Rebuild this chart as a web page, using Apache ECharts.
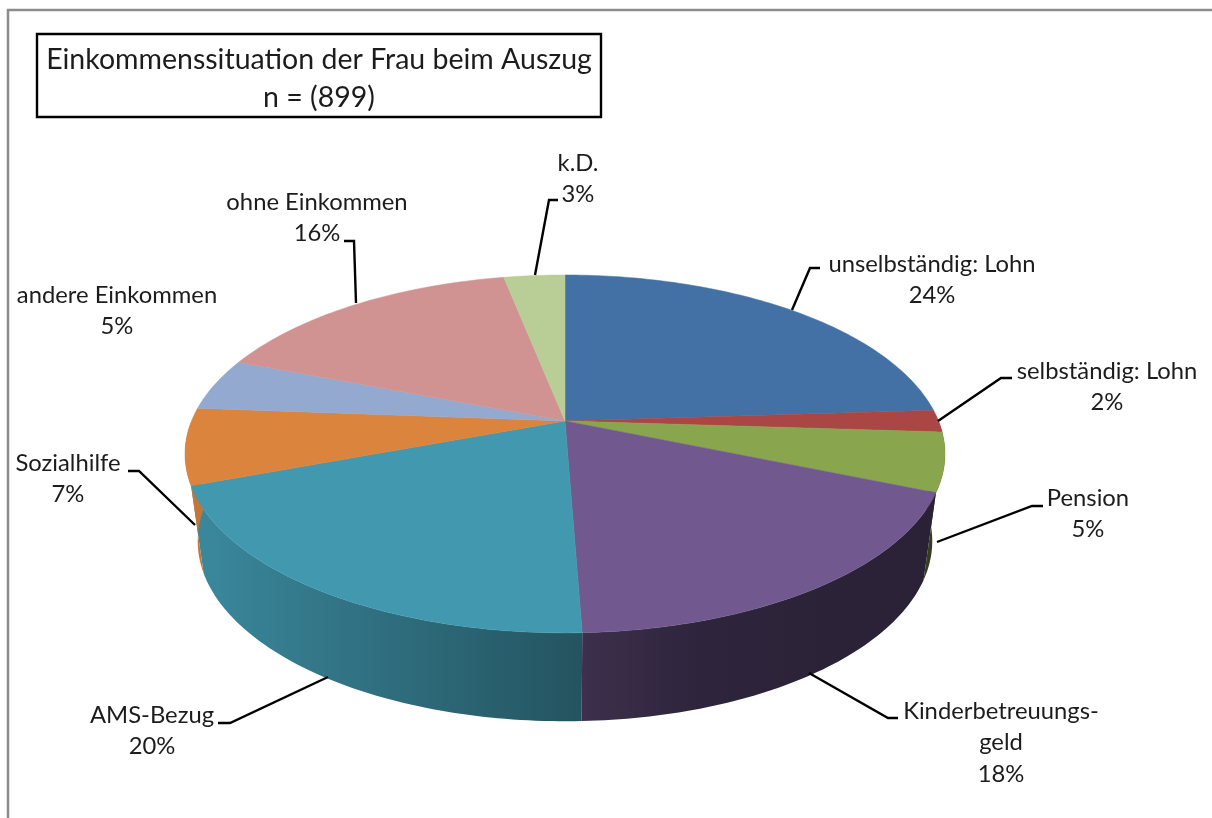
<!DOCTYPE html>
<html><head><meta charset="utf-8">
<style>html,body{margin:0;padding:0;background:#fff}#c{width:1212px;height:818px;filter:blur(0.5px)}</style>
<script src="https://cdn.jsdelivr.net/npm/echarts@6/dist/echarts.min.js"></script>
</head><body><div id="c"></div>
<script>
// ---- data
const categories = ['unselbständig: Lohn','selbständig: Lohn','Pension','Kinderbetreuungs-\ngeld','AMS-Bezug','Sozialhilfe','andere Einkommen','ohne Einkommen','k.D.'];
const values = [24, 2, 5.3, 18.1, 19.9, 6.9, 4.7, 16, 3.1];
const shownPercents = [24, 2, 5, 18, 20, 7, 5, 16, 3];
const colors = ['#4371a6','#aa4643','#89a54e','#71588f','#4198af','#db843d','#93a9cf','#d19392','#b9cd96'];
const titleText = 'Einkommenssituation der Frau beim Auszug\nn = (899)';

// ---- layout (separate from the data)
const topFace = {cx:565, cy:421, a:373.5, b:172.9, k:0.184};
const bottomFace = {cx:565, cy:508, a:361, b:174, k:0.184};
const labelCenters = [[932,264],[1107,371],[1088,498],[1001,711],[152,715],[68,463],[117,295],[317,202],[578,163]];
const leaders = [
  [[792,310],[810,268],[820,268]],
  [[938,421],[1001,378],[1012,378]],
  [[937,542],[1032,506],[1043,506]],
  [[809,673],[888,718],[898,718]],
  [[328,677],[230,723],[218,723]],
  [[195,525],[139,471],[128,471]],
  null,
  [[356,303],[354,241],[344,241]],
  [[535,275],[549,200],[558,200]]
];
const lineGap = 31.5;
const fontFamily = 'Lato';
const labelFontSize = 23.8;
const wallShade = [[0,0.9],[0.17,0.78],[0.52,0.55],[0.53,0.53],[0.68,0.41],[1,0.38]];

const total = values.reduce((s,v)=>s+v,0);
const starts = values.map((_,i)=>values.slice(0,i).reduce((s,v)=>s+v,0)/total*360);
function project(face, deg){
  const r = deg*Math.PI/180, x = Math.sin(r), y = Math.cos(r), w = 1+face.k*y;
  return [face.cx+face.a*x/w, face.cy-face.b*y/w];
}
function arc(face, from, to){
  const pts = [], n = Math.max(2, Math.ceil((to-from)));
  for(let i=0;i<=n;i++) pts.push(project(face, from+(to-from)*i/n));
  return pts;
}
function shadeColor(hex, f){
  const n = parseInt(hex.slice(1),16);
  return 'rgb('+[(n>>16)&255,(n>>8)&255,n&255].map(c=>Math.round(c*f)).join(',')+')';
}
function sweep(api){
  const i = api.value(0), from = starts[i];
  return {i, from, to: from + api.value(1)/total*360};
}
function renderWall(params, api){
  const s = sweep(api), a = Math.max(s.from,90), b = Math.min(s.to,270);
  if(b<=a) return null;
  const pts = arc(topFace,a,b).concat(arc(bottomFace,a,b).reverse());
  return {type:'polygon', shape:{points:pts}, style:{
    fill:{type:'linear',global:true,x:190,y:0,x2:940,y2:0,
      colorStops:wallShade.map(([o,f])=>({offset:o,color:shadeColor(colors[s.i],f)}))}
  }};
}
function renderTop(params, api){
  const s = sweep(api);
  const pts = [[topFace.cx,topFace.cy]].concat(arc(topFace,s.from,s.to));
  return {type:'polygon', shape:{points:pts}, style:{fill:colors[s.i], stroke:colors[s.i], lineWidth:0.5}};
}
function renderLabel(params, api){
  const i = api.value(0), c = labelCenters[i], children = [];
  const lines = categories[i].split('\n').concat([shownPercents[i]+'%']);
  lines.forEach((t,j)=>children.push({type:'text', style:{
    x:c[0], y:c[1]+j*lineGap, text:t, align:'center', verticalAlign:'middle',
    fontFamily, fontSize:labelFontSize, fill:'#1c1c1c'}}));
  if(leaders[i]) children.push({type:'polyline', shape:{points:leaders[i]}, style:{fill:null, stroke:'#000', lineWidth:2.4}});
  return {type:'group', children};
}
const seriesData = values.map((v,i)=>[i,v]);
const chart = echarts.init(document.getElementById('c'), null, {renderer:'canvas'});
chart.setOption({
  animation:false,
  backgroundColor:'#fff',
  title:{text:titleText,left:309.5,top:34,textAlign:'center',borderColor:'#000',borderWidth:2.4,
    padding:[7,9.5,0,9.5],
    textStyle:{fontFamily,fontSize:28.5,fontWeight:'normal',color:'#1c1c1c',lineHeight:38}},
  graphic:[{type:'polyline',silent:true,shape:{points:[[8,818],[8,10],[1212,10]]},style:{fill:null,stroke:'#8c8c8c',lineWidth:2.5}}],
  series:[
    {type:'custom',coordinateSystem:'none',name:'wall',z:1,silent:true,data:seriesData,renderItem:renderWall},
    {type:'custom',coordinateSystem:'none',name:'top',z:2,silent:true,data:seriesData,renderItem:renderTop},
    {type:'custom',coordinateSystem:'none',name:'labels',z:3,silent:true,data:seriesData,renderItem:renderLabel}
  ]
});
</script></body></html>
